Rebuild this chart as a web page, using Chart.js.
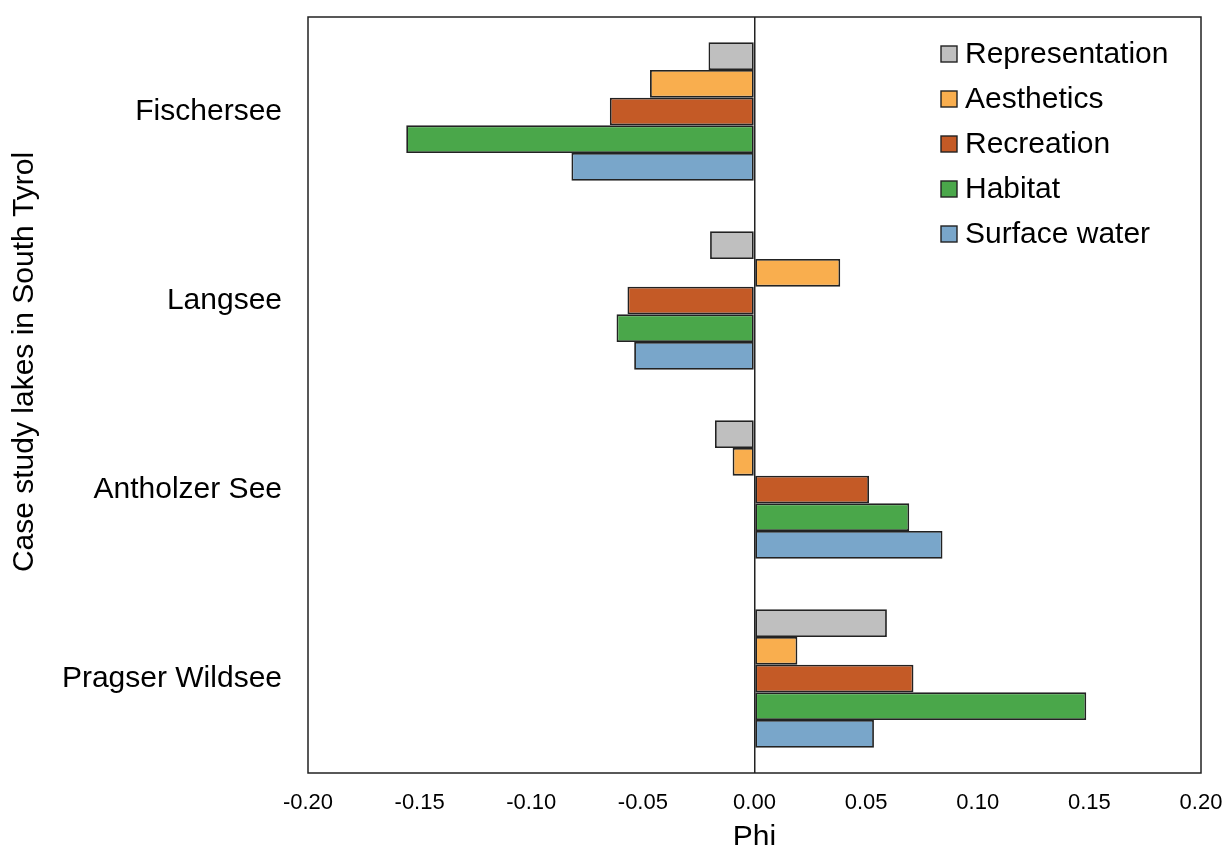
<!DOCTYPE html>
<html>
<head>
<meta charset="utf-8">
<script src="https://cdn.jsdelivr.net/npm/chart.js@4.4.1/dist/chart.umd.min.js"></script>
<style>
  html, body { margin: 0; padding: 0; background: #fff; }
  #wrap { width: 1224px; height: 845px; }
</style>
</head>
<body>
<div id="wrap"><canvas id="phiChart" width="1224" height="845"></canvas></div>
<script>
// lakes and phi values
const lakes = ['Fischersee', 'Langsee', 'Antholzer See', 'Pragser Wildsee'];
const representation = [-0.0206, -0.0199, -0.0177, 0.0593];
const aesthetics = [-0.0468, 0.0384, -0.0098, 0.0192];
const recreation = [-0.0648, -0.0569, 0.0513, 0.0712];
const habitat = [-0.156, -0.0618, 0.0693, 0.1486];
const surfaceWater = [-0.082, -0.0539, 0.0842, 0.0535];
const xTicks = [-0.20, -0.15, -0.10, -0.05, 0.00, 0.05, 0.10, 0.15, 0.20];
const yTitle = 'Case study lakes in South Tyrol';

const FONT = "'Liberation Sans', Arial, sans-serif";

// frame round the plot, y title, legend inside top right
const boxAndLegend = {
  id: 'boxAndLegend',
  afterDraw(chart) {
    const { ctx, chartArea: a } = chart;
    ctx.save();
    ctx.strokeStyle = '#222';
    ctx.lineWidth = 1.5;
    ctx.strokeRect(a.left, a.top, a.right - a.left, a.bottom - a.top);

    // y axis title (sits a bit above the plot middle in the original)
    ctx.save();
    ctx.translate(25, (a.top + a.bottom) / 2 - 33);
    ctx.rotate(-Math.PI / 2);
    ctx.font = '30px ' + FONT;
    ctx.fillStyle = '#000';
    ctx.textAlign = 'center';
    ctx.textBaseline = 'middle';
    ctx.fillText(yTitle, 0, 0);
    ctx.restore();

    const x0 = a.left + 633;
    let y = a.top + 37;
    ctx.font = '30px ' + FONT;
    ctx.textBaseline = 'middle';
    ctx.textAlign = 'left';
    chart.data.datasets.forEach(ds => {
      ctx.fillStyle = ds.backgroundColor;
      ctx.fillRect(x0, y - 8, 16, 16);
      ctx.strokeStyle = '#222';
      ctx.lineWidth = 1.4;
      ctx.strokeRect(x0, y - 8, 16, 16);
      ctx.fillStyle = '#000';
      ctx.fillText(ds.label, x0 + 24, y + 1);
      y += 45;
    });
    ctx.restore();
  }
};

function series(label, data, color) {
  return {
    label: label,
    data: data,
    backgroundColor: color,
    borderColor: '#222',
    borderWidth: 1.8,
    borderSkipped: false,
    categoryPercentage: 0.733,
    barPercentage: 1.0
  };
}

const ctx = document.getElementById('phiChart').getContext('2d');
new Chart(ctx, {
  type: 'bar',
  data: {
    labels: lakes,
    datasets: [
      series('Representation', representation, '#BFBFBF'),
      series('Aesthetics', aesthetics, '#F9AE4E'),
      series('Recreation', recreation, '#C45A26'),
      series('Habitat', habitat, '#4AA74A'),
      series('Surface water', surfaceWater, '#79A6CA')
    ]
  },
  options: {
    indexAxis: 'y',
    responsive: false,
    animation: false,
    layout: { padding: { top: 17, right: 23, left: 0, bottom: 0 } },
    plugins: {
      legend: { display: false },
      tooltip: { enabled: false }
    },
    scales: {
      x: {
        min: -0.2,
        max: 0.2,
        afterBuildTicks: (scale) => { scale.ticks = xTicks.map(v => ({ value: v })); },
        grid: {
          drawTicks: false,
          color: (c) => (c.tick && Math.abs(c.tick.value) < 1e-9 ? '#222' : 'rgba(0,0,0,0)'),
          lineWidth: 1.5
        },
        border: { display: false },
        ticks: {
          color: '#000',
          font: { family: FONT, size: 22 },
          padding: 17,
          maxRotation: 0,
          callback: (v) => Number(v).toFixed(2)
        },
        title: {
          display: true,
          text: 'Phi',
          color: '#000',
          font: { family: FONT, size: 30 },
          padding: { top: 4, bottom: -11 }
        },
        afterFit: (scale) => {
          scale.height = 72;
          scale.paddingLeft = 0;
          scale.paddingRight = 0;
        }
      },
      y: {
        grid: { display: false, drawTicks: false },
        border: { display: false },
        ticks: {
          color: '#000',
          font: { family: FONT, size: 30 },
          padding: 26
        },
        afterFit: (scale) => {
          scale.width = 308;
          scale.paddingTop = 0;
          scale.paddingBottom = 0;
        }
      }
    }
  },
  plugins: [boxAndLegend]
});
</script>
</body>
</html>
